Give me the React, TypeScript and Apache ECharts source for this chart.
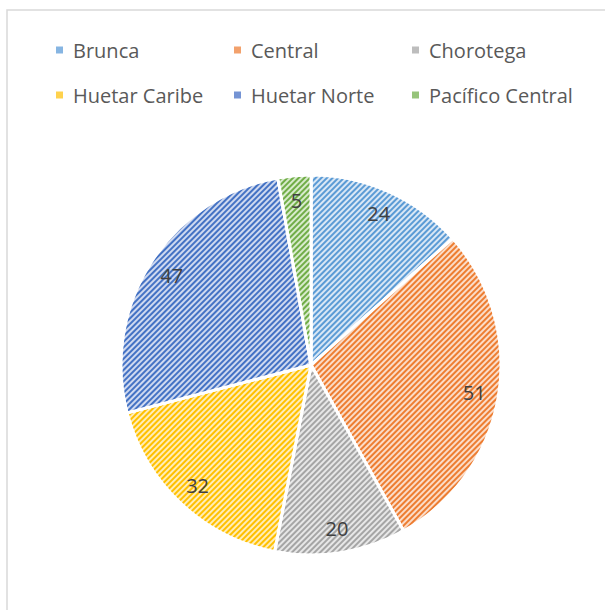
import React, { useEffect, useRef } from "react";
import * as echarts from "echarts";

const regions = ["Brunca", "Central", "Chorotega", "Huetar Caribe", "Huetar Norte", "Pacífico Central"];
const values = [24, 51, 20, 32, 47, 5];
const baseColors = ["#5B9BD5", "#ED7D31", "#A5A5A5", "#FFC000", "#4472C4", "#70AD47"];
const lightColors = ["#d9e7f5", "#fbdcc8", "#e7e7e7", "#ffedb8", "#cfd9f0", "#d8ebcc"];
const iconColors = ["#86b5e2", "#f2a16c", "#bdbdbd", "#ffd24d", "#7594d4", "#96c47a"];

const legendPos = [
  [49, 35], [227, 35], [405, 35],
  [49, 80], [227, 80], [405, 80],
];

export default function App() {
  const ref = useRef<HTMLDivElement>(null);
  useEffect(() => {
    document.body.style.margin = "0";
    const chart = echarts.init(ref.current!, null, { renderer: "svg" });
    const data = regions.map((name, i) => ({
      name,
      value: values[i],
      itemStyle: {
        color: lightColors[i],
        decal: {
          symbol: "rect",
          symbolSize: 1,
          dashArrayX: [1, 0],
          dashArrayY: [1.1, 1.75],
          rotation: -Math.PI / 4,
          color: baseColors[i],
        },
      },
    }));
    chart.setOption({
      animation: false,
      backgroundColor: "#ffffff",
      graphic: [
        {
          type: "rect",
          shape: { x: 7, y: 10, width: 700, height: 700 },
          style: { fill: "none", stroke: "#d9d9d9", lineWidth: 1.5 },
          silent: true,
        },
      ],
      legend: regions.map((name, i) => ({
        data: [{ name, itemStyle: { color: iconColors[i], decal: "none" } }],
        left: legendPos[i][0],
        top: legendPos[i][1],
        icon: "rect",
        itemWidth: 9,
        itemHeight: 9,
        selectedMode: false,
        textStyle: {
          fontSize: 20,
          color: "#595959",
          fontFamily: "Open Sans",
          padding: [0, 0, 0, 4],
        },
      })),
      series: [
        {
          type: "pie",
          center: [311, 365],
          radius: [0, 190],
          startAngle: 90,
          clockwise: true,
          data,
          itemStyle: { borderColor: "#ffffff", borderWidth: 3 },
          label: { show: false },
          labelLine: { show: false },
          emphasis: { disabled: true },
        },
        {
          type: "pie",
          center: [311, 365],
          radius: [130, 195],
          startAngle: 90,
          clockwise: true,
          silent: true,
          data: regions.map((name, i) => ({ name: name, value: values[i] })),
          itemStyle: { color: "rgba(0,0,0,0)" },
          label: {
            show: true,
            position: "inside",
            formatter: "{c}",
            fontSize: 20,
            color: "#404040",
            fontFamily: "Open Sans",
          },
          labelLine: { show: false },
          emphasis: { disabled: true },
          legendHoverLink: false,
        },
      ],
    });
    return () => chart.dispose();
  }, []);
  return <div ref={ref} style={{ width: 605, height: 610 }} />;
}
